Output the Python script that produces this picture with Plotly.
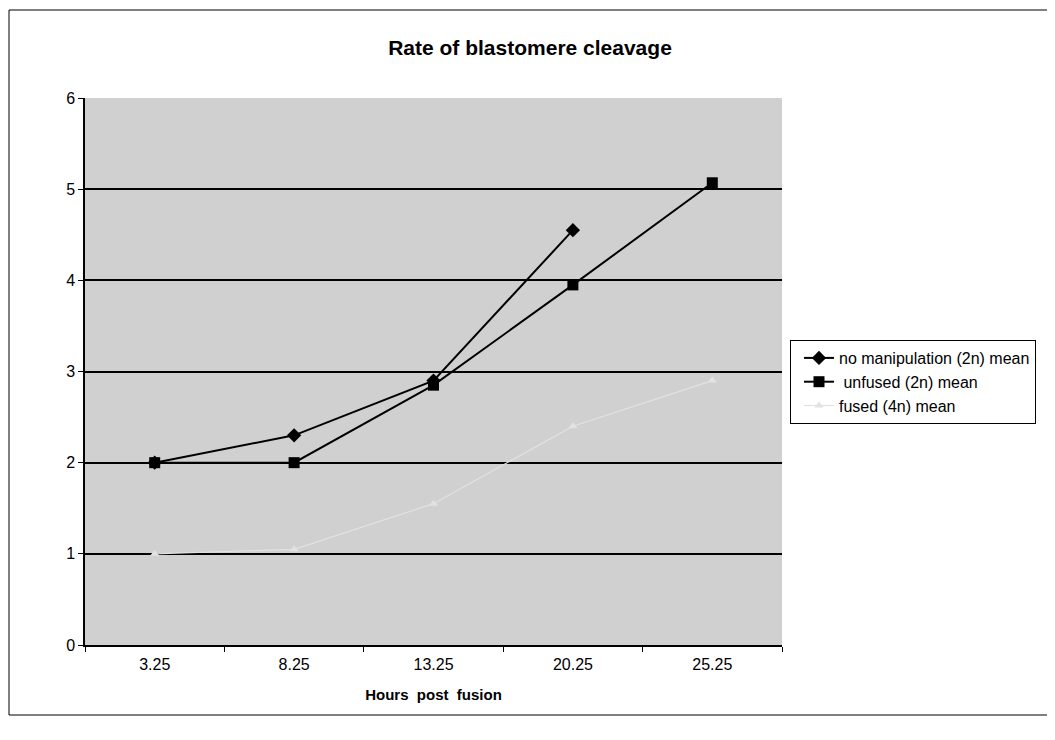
import plotly.graph_objects as go

categories = ["3.25", "8.25", "13.25", "20.25", "25.25"]
no_manipulation = [2.0, 2.3, 2.9, 4.55, None]
unfused = [2.0, 2.0, 2.85, 3.95, 5.07]
fused = [1.0, 1.05, 1.55, 2.4, 2.9]
y_ticks = [0, 1, 2, 3, 4, 5, 6]

OFF = 8  # page body margin
W, H = 1055 - OFF, 740 - OFF
# plot area in page pixels: x 85..782, y 98..645
L = 85 - OFF
T = 98 - OFF
R = W - (782 - OFF)
B = H - (645 - OFF)
pw, ph = W - L - R, H - T - B

def px_x(p):  # page px -> paper x
    return (p - OFF - L) / pw

def px_y(p):  # page px -> paper y
    return (H - B - (p - OFF)) / ph

fig = go.Figure()
fig.add_trace(go.Scatter(
    x=categories, y=no_manipulation, name="no manipulation (2n) mean",
    mode="lines+markers", line=dict(color="black", width=2),
    marker=dict(symbol="diamond", size=11, color="black")))
fig.add_trace(go.Scatter(
    x=categories, y=unfused, name=" unfused (2n) mean",
    mode="lines+markers", line=dict(color="black", width=2),
    marker=dict(symbol="square", size=11, color="black")))
fig.add_trace(go.Scatter(
    x=categories, y=fused, name="fused (4n) mean",
    mode="lines+markers", line=dict(color="#e2e2e2", width=1.2),
    marker=dict(symbol="triangle-up", size=8, color="#e2e2e2")))

fig.update_layout(
    width=W, height=H,
    margin=dict(l=L, r=R, t=T, b=B),
    paper_bgcolor="white",
    plot_bgcolor="#d0d0d0",
    font=dict(family="Liberation Sans, Arial, sans-serif", size=16, color="black"),
    title=dict(text="<b>Rate of blastomere cleavage</b>", x=(530 - OFF) / W, xanchor="center",
               xref="container", y=1 - (48 - OFF) / H, yanchor="middle", font=dict(size=21)),
    showlegend=True,
    legend=dict(x=px_x(790), xanchor="left", y=px_y(340), yanchor="top",
                bgcolor="white", bordercolor="black", borderwidth=1,
                font=dict(size=16), tracegroupgap=0, indentation=8),
    shapes=[dict(type="rect", xref="paper", yref="paper",
                 x0=px_x(9), x1=px_x(1075), y0=px_y(10), y1=px_y(715),
                 line=dict(color="black", width=1), layer="below")],
)
fig.update_xaxes(
    type="category", categoryorder="array", categoryarray=categories,
    range=[-0.5, 4.5], showgrid=False, showline=True, linecolor="black", linewidth=1.5,
    ticks="outside", tickson="boundaries", ticklen=5, tickcolor="black",
    tickfont=dict(size=16), zeroline=False, ticklabelstandoff=4,
    title=dict(text="<b>Hours\u00a0\u00a0post\u00a0\u00a0fusion</b>", font=dict(size=15), standoff=18),
)
fig.update_yaxes(
    range=[0, 6], tickvals=y_ticks, showgrid=True, gridcolor="black", gridwidth=1.5,
    showline=True, linecolor="black", linewidth=1.5, ticks="outside", ticklen=5,
    tickcolor="black", tickfont=dict(size=16), zeroline=False,
)

fig.write_html("out.html")
